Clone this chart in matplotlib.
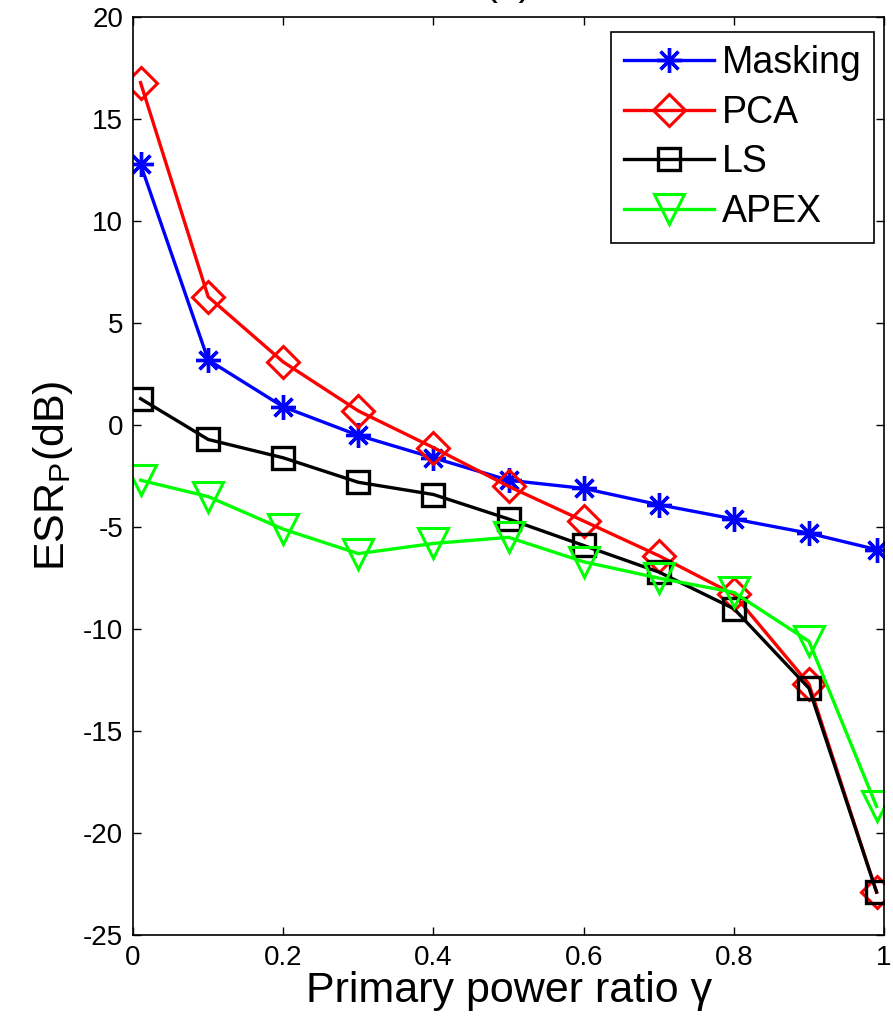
import matplotlib
matplotlib.use("Agg")
import matplotlib.pyplot as plt

plt.rcParams['font.family'] = ['Liberation Sans', 'DejaVu Sans']
plt.rcParams['mathtext.fontset'] = 'custom'
plt.rcParams['mathtext.rm'] = 'Liberation Sans'
plt.rcParams['axes.unicode_minus'] = False

# data
gamma = [0.01, 0.1, 0.2, 0.3, 0.4, 0.5, 0.6, 0.7, 0.8, 0.9, 0.99]
masking = [12.8, 3.2, 0.9, -0.5, -1.6, -2.7, -3.1, -3.9, -4.6, -5.3, -6.1]
pca = [16.8, 6.3, 3.1, 0.7, -1.1, -3.0, -4.7, -6.4, -8.3, -12.7, -22.9]
ls = [1.3, -0.7, -1.6, -2.8, -3.4, -4.6, -5.9, -7.2, -9.0, -12.9, -22.9]
apex = [-2.7, -3.5, -5.1, -6.3, -5.8, -5.5, -6.7, -7.5, -8.2, -10.6, -18.7]

xticks = [0, 0.2, 0.4, 0.6, 0.8, 1]
xticklabels = ['0', '0.2', '0.4', '0.6', '0.8', '1']
yticks = [-25, -20, -15, -10, -5, 0, 5, 10, 15, 20]

fig = plt.figure(figsize=(8.93, 10.24), dpi=100)
ax = fig.add_axes([0.149, 0.087, 0.841, 0.896])

lw = 2.4
ax.plot(gamma, masking, color=(0, 0, 1), lw=lw, marker=(8, 2, 0), ms=18, mew=2.4,
        label='Masking')
ax.plot(gamma, pca, color=(1, 0, 0), lw=lw, marker='D', ms=16, mew=2.2, mfc='none',
        label='PCA')
ax.plot(gamma, ls, color='black', lw=lw, marker='s', ms=16, mew=2.4, mfc='none',
        label='LS')
ax.plot(gamma, apex, color=(0, 1, 0), lw=lw, marker='v', ms=21, mew=2.2, mfc='none',
        label='APEX')

ax.set_xlim(0, 1)
ax.set_ylim(-25, 20)
ax.set_xticks(xticks)
ax.set_xticklabels(xticklabels)
ax.set_yticks(yticks)
ax.tick_params(direction='in', length=6, width=1, top=True, right=True,
               labelsize=20, pad=7)
for s in ax.spines.values():
    s.set_linewidth(1.2)

ax.set_xlabel('Primary power ratio γ', fontsize=31, labelpad=0)
ax.set_ylabel(r'ESR$_\mathregular{P}$(dB)', fontsize=31, labelpad=6)
# title sits mostly above the top edge, as in the source image
ax.set_title('(a)', fontsize=28, pad=16)

leg = ax.legend(loc='upper right', bbox_to_anchor=(0.987, 0.984), fontsize=27,
                fancybox=False, framealpha=1, edgecolor='black',
                handlelength=2.4, labelspacing=0.36, borderpad=0.35,
                handletextpad=0.2, borderaxespad=0)
leg.get_frame().set_linewidth(1.2)

fig.savefig('out.png', dpi=100)
